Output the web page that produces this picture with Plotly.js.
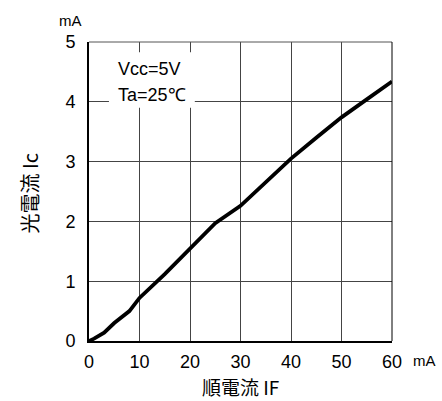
<!DOCTYPE html>
<html><head><meta charset="utf-8">
<script src="https://cdn.plot.ly/plotly-3.0.1.min.js"></script>
<style>html,body{margin:0;padding:0;background:#fff}</style>
</head><body>
<div id="chart" style="width:442px;height:401px"></div>
<script>
const forwardCurrent = [0, 1, 3, 5, 8, 10, 15, 20, 25, 30, 35, 40, 45, 50, 55, 60];
const photoCurrent   = [0, 0.04, 0.14, 0.3, 0.5, 0.72, 1.12, 1.55, 1.97, 2.26, 2.66, 3.05, 3.4, 3.74, 4.04, 4.34];
const xTicks = [0, 10, 20, 30, 40, 50, 60];
const yTicks = [0, 1, 2, 3, 4, 5];
const xTitle = "順電流 IF";
const yTitle = "光電流 Ic";
const unit = "mA";
const conditionLines = ["Vcc=5V", "Ta=25℃"];

const latin = "Liberation Sans, Arial, sans-serif";
const cjk = "Noto Sans CJK JP, Liberation Sans, sans-serif";

const trace = {
  x: forwardCurrent, y: photoCurrent, type: "scatter", mode: "lines",
  line: {color: "#000", width: 3.8, shape: "linear"}, hoverinfo: "skip"
};

const layout = {
  width: 442, height: 401,
  margin: {l: 89, r: 49.5, t: 42, b: 60},
  paper_bgcolor: "#fff", plot_bgcolor: "#fff",
  showlegend: false,
  font: {family: latin, color: "#000", size: 18},
  xaxis: {
    range: [0, 60], tickvals: xTicks, ticktext: xTicks.map(String),
    showgrid: true, gridcolor: "#444", gridwidth: 1,
    showline: true, linecolor: "#000", linewidth: 2,
    zeroline: false, ticks: "", ticklabelstandoff: 3,
    tickfont: {family: latin, size: 18, color: "#000"}, fixedrange: true
  },
  yaxis: {
    range: [0, 5], tickvals: yTicks, ticktext: yTicks.map(String),
    showgrid: true, gridcolor: "#444", gridwidth: 1,
    showline: true, linecolor: "#000", linewidth: 2,
    zeroline: false, ticks: "", ticklabelstandoff: 8,
    tickfont: {family: latin, size: 18, color: "#000"}, fixedrange: true
  },
  shapes: [
    {type: "line", xref: "paper", yref: "paper", x0: 0, x1: 1, y0: 1, y1: 1, line: {color: "#555", width: 1}},
    {type: "line", xref: "paper", yref: "paper", x0: 1, x1: 1, y0: 0, y1: 1, line: {color: "#000", width: 1}},
    {type: "rect", xref: "x", yref: "y", x0: 3.95, x1: 20.95, y0: 3.9, y1: 4.83,
     fillcolor: "#fff", line: {width: 0}}
  ],
  annotations: [
    {text: conditionLines[0], xref: "x", yref: "y", x: 5.4, y: 4.55, xanchor: "left", yanchor: "middle",
     showarrow: false, font: {family: latin, size: 18, color: "#000"}},
    {text: conditionLines[1], xref: "x", yref: "y", x: 5.4, y: 4.11, xanchor: "left", yanchor: "middle",
     showarrow: false, font: {family: latin, size: 18, color: "#000"}},
    {text: unit, xref: "paper", yref: "paper", x: -0.0626, y: 1.0, xanchor: "center", yanchor: "middle",
     yshift: 22, showarrow: false, font: {family: latin, size: 15, color: "#000"}},
    {text: unit, xref: "paper", yref: "paper", x: 1.0, y: 0, xanchor: "left", yanchor: "middle",
     xshift: 19, yshift: -19, showarrow: false, font: {family: latin, size: 15, color: "#000"}},
    {text: xTitle, xref: "paper", yref: "paper", x: 0.5, y: 0, xanchor: "center", yanchor: "middle",
     yshift: -45, showarrow: false, font: {family: cjk, size: 19, color: "#000"}},
    {text: yTitle, xref: "paper", yref: "paper", x: 0, y: 0.5, xanchor: "center", yanchor: "middle",
     xshift: -60, yshift: -2, textangle: -90, showarrow: false, font: {family: cjk, size: 20, color: "#000"}}
  ]
};

Plotly.newPlot("chart", [trace], layout, {displayModeBar: false, staticPlot: true});
</script>
</body></html>
